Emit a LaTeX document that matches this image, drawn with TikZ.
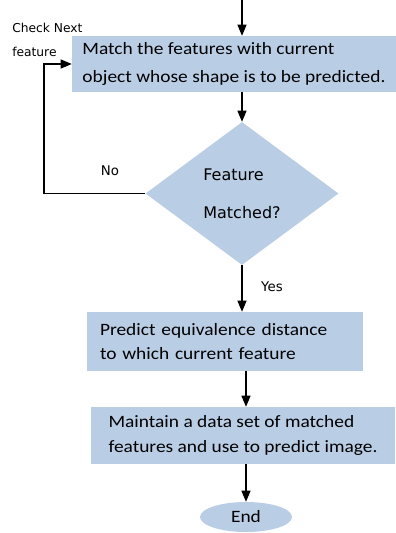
\documentclass[tikz,border=0pt]{standalone}
\usepackage{fontspec}
\setmainfont{Carlito}[FakeStretch=1.12]
\newfontfamily\verd{DejaVu Sans}
\usepackage{tikz}
\usetikzlibrary{arrows}
\usetikzlibrary{shapes.geometric, positioning, calc}
\usepackage{xcolor}
\definecolor{boxblue}{RGB}{185,205,229}

\begin{document}
\begin{tikzpicture}[x=0.75pt, y=-0.75pt,
    stepbox/.style={rectangle, fill=boxblue, inner ysep=0pt, inner xsep=4pt, align=left},
    flow/.style={-triangle 45, line width=0.9pt}]
      \useasboundingbox (0, 0) rectangle (396, 533);

      \node[stepbox, minimum width=243pt, minimum height=42pt,
            font=\fontsize{13}{21}\selectfont] (match) at (234, 64)
            {Match the features with current\\object whose shape is to be predicted.};
      \node[diamond, fill=boxblue, inner sep=0pt, minimum width=144.75pt, minimum height=107.25pt, align=left,
            font=\verd\fontsize{12}{28.5}\selectfont] (matched) at (242, 193.5) {Feature\\Matched?};
      \node[stepbox, minimum width=207pt, minimum height=44.25pt, inner xsep=9.75pt, text width=187.5pt,
            font=\fontsize{13}{17.5}\selectfont] (predict) at (225, 341.5)
            {Predict equivalence distance\\to which current feature};
      \node[stepbox, minimum width=228pt, minimum height=42.75pt,
            font=\fontsize{13}{19}\selectfont] (maintain) at (243, 435.5)
            {Maintain a data set of matched\\features and use to predict image.};
      \node[ellipse, fill=boxblue, inner sep=0pt, minimum width=69pt, minimum height=22.5pt,
            font=\fontsize{13}{14}\selectfont] (end) at (246, 517) {End};

      \node[font=\verd\fontsize{10}{12}\selectfont] (no) at (110, 171) {No};
      \node[font=\verd\fontsize{10}{12}\selectfont] (yes) at (272, 287) {Yes};
      \node[anchor=west, align=left, inner sep=0pt, font=\verd\fontsize{9.2}{18}\selectfont] (check) at (12, 40)
            {Check Next\\feature};

      \coordinate (start) at (242, 0);
      \coordinate (loop) at (44, 193.5);
      \draw[flow] (start) -- (start |- match.north);
      \draw[flow] (matched.north |- match.south) -- (matched.north);
      \draw[flow] (matched.south) -- (matched.south |- predict.north);
      \draw[flow] (end.north |- predict.south) -- (end.north |- maintain.north);
      \draw[flow] (end.north |- maintain.south) -- (end.north);
      \draw[flow] (matched.west) -- (loop) |- (match.west);

    \end{tikzpicture}
\end{document}
